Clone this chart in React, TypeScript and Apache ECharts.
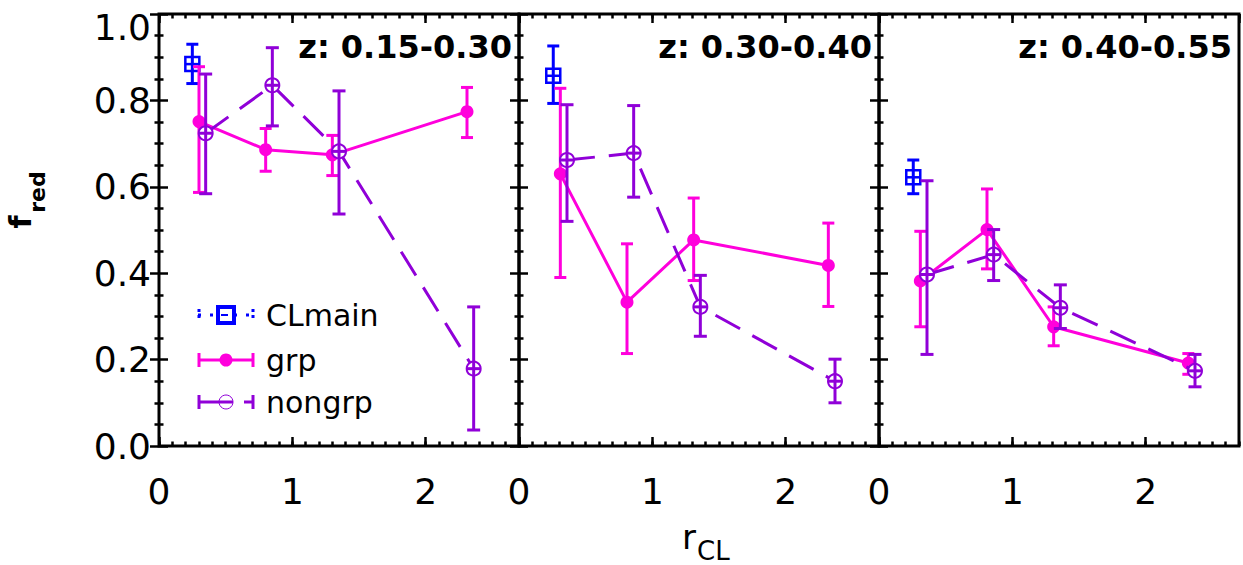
import React, { useEffect, useRef } from "react";
import * as echarts from "echarts";

// Redshift bins, one panel each
const panelTitles = ["z: 0.15-0.30", "z: 0.30-0.40", "z: 0.40-0.55"];

// CLmain: one point per panel (r, f, lower, upper)
const clmainR = [0.25, 0.257, 0.257];
const clmainF = [0.884, 0.857, 0.622];
const clmainLo = [0.839, 0.793, 0.584];
const clmainHi = [0.93, 0.926, 0.662];

// grp
const grpR = [
  [0.3, 0.8, 1.3, 2.31],
  [0.31, 0.81, 1.31, 2.32],
  [0.31, 0.81, 1.31, 2.32],
];
const grpF = [
  [0.751, 0.686, 0.674, 0.774],
  [0.63, 0.333, 0.477, 0.418],
  [0.382, 0.501, 0.276, 0.192],
];
const grpLo = [
  [0.587, 0.636, 0.626, 0.714],
  [0.39, 0.214, 0.383, 0.323],
  [0.276, 0.41, 0.232, 0.166],
];
const grpHi = [
  [0.878, 0.735, 0.719, 0.83],
  [0.828, 0.468, 0.574, 0.516],
  [0.497, 0.595, 0.322, 0.214],
];

// nongrp
const nongrpR = [
  [0.35, 0.85, 1.35, 2.36],
  [0.36, 0.86, 1.36, 2.37],
  [0.36, 0.86, 1.36, 2.37],
];
const nongrpF = [
  [0.724, 0.835, 0.682, 0.179],
  [0.662, 0.678, 0.322, 0.15],
  [0.397, 0.443, 0.32, 0.174],
];
const nongrpLo = [
  [0.584, 0.741, 0.537, 0.037],
  [0.52, 0.576, 0.254, 0.1],
  [0.212, 0.383, 0.272, 0.137],
];
const nongrpHi = [
  [0.861, 0.922, 0.822, 0.322],
  [0.79, 0.788, 0.395, 0.201],
  [0.614, 0.501, 0.373, 0.212],
];

const X_MAX = 2.7;
const BLUE = "#0000ff";
const MAGENTA = "#ff00dc";
const PURPLE = "#9000d8";
const FONT = "DejaVu Sans";

const PANEL_LEFT = [159, 519, 879];
const PANEL_TOP = 14;
const PANEL_W = 360;
const PANEL_H = 432;

type Deco = "none" | "bar" | "box";

function errorBarRenderer(color: string, capHalf: number, deco: Deco) {
  return (_params: any, api: any) => {
    const x = api.value(0);
    const lo = api.coord([x, api.value(1)]);
    const hi = api.coord([x, api.value(2)]);
    const c = api.coord([x, api.value(3)]);
    const st = { stroke: color, lineWidth: 3, fill: "none" };
    const kids: any[] = [
      { type: "line", shape: { x1: lo[0], y1: lo[1], x2: hi[0], y2: hi[1] }, style: st },
      { type: "line", shape: { x1: hi[0] - capHalf, y1: hi[1], x2: hi[0] + capHalf, y2: hi[1] }, style: st },
      { type: "line", shape: { x1: lo[0] - capHalf, y1: lo[1], x2: lo[0] + capHalf, y2: lo[1] }, style: st },
    ];
    if (deco === "bar") {
      kids.push({ type: "line", shape: { x1: c[0] - 7, y1: c[1], x2: c[0] + 7, y2: c[1] }, style: st });
    }
    if (deco === "box") {
      kids.push({
        type: "rect",
        shape: { x: c[0] - 7, y: c[1] - 7, width: 14, height: 14 },
        style: { stroke: color, lineWidth: 2.5, fill: "none" },
      });
      kids.push({
        type: "line",
        shape: { x1: c[0] - 7, y1: c[1], x2: c[0] + 7, y2: c[1] },
        style: { stroke: color, lineWidth: 2.5 },
      });
    }
    return { type: "group", children: kids };
  };
}

function buildOption() {
  const grid: any[] = [];
  const xAxis: any[] = [];
  const yAxis: any[] = [];
  const series: any[] = [];
  const graphic: any[] = [];

  const tickStyle = { color: "#000", width: 2.5 };
  const labelFont = { fontSize: 36, fontFamily: FONT, color: "#000" };

  for (let i = 0; i < 3; i++) {
    grid.push({
      left: PANEL_LEFT[i],
      top: PANEL_TOP,
      width: PANEL_W,
      height: PANEL_H,
      show: true,
      borderColor: "#000",
      borderWidth: 3,
      backgroundColor: "transparent",
    });

    // bottom/top major + minor x axes
    for (const pos of ["bottom", "top"]) {
      xAxis.push({
        type: "value",
        gridIndex: i,
        position: pos,
        min: 0,
        max: X_MAX,
        interval: 1,
        axisLine: { show: false },
        splitLine: { show: false },
        axisTick: { show: true, inside: true, length: 9, lineStyle: tickStyle },
        axisLabel: {
          show: pos === "bottom",
          showMaxLabel: false,
          margin: 27,
          ...labelFont,
          formatter: (v: number) =>
            Math.abs(v - Math.round(v)) < 1e-6 ? String(Math.round(v)) : "",
        },
      });
      xAxis.push({
        type: "value",
        gridIndex: i,
        position: pos,
        min: 0,
        max: X_MAX,
        interval: 0.1,
        axisLine: { show: false },
        splitLine: { show: false },
        axisTick: { show: true, inside: true, length: 4.5, lineStyle: tickStyle },
        axisLabel: { show: false },
      });
    }

    for (const pos of ["left", "right"]) {
      yAxis.push({
        type: "value",
        gridIndex: i,
        position: pos,
        min: 0,
        max: 1,
        interval: 0.2,
        axisLine: { show: false },
        splitLine: { show: false },
        axisTick: { show: true, inside: true, length: 9, lineStyle: tickStyle },
        minorTick: { show: true, splitNumber: 4, length: 4.5, lineStyle: tickStyle },
        axisLabel: {
          show: i === 0 && pos === "left",
          margin: 8,
          ...labelFont,
          // the top label sits a little lower so it stays inside the page
          formatter: (v: number) => (v >= 0.999 ? `{top|${v.toFixed(1)}}` : v.toFixed(1)),
          rich: { top: { ...labelFont, padding: [26, 0, 0, 0] } },
        },
      });
    }

    const xi = i * 4;
    const yi = i * 2;

    series.push({
      type: "custom",
      name: "CLmain",
      xAxisIndex: xi,
      yAxisIndex: yi,
      z: 2,
      silent: true,
      encode: { x: 0, y: 3 },
      data: [[clmainR[i], clmainLo[i], clmainHi[i], clmainF[i]]],
      renderItem: errorBarRenderer(BLUE, 6, "box"),
    });

    series.push({
      type: "line",
      name: "grp",
      xAxisIndex: xi,
      yAxisIndex: yi,
      z: 3,
      silent: true,
      data: grpR[i].map((r, j) => [r, grpF[i][j]]),
      lineStyle: { color: MAGENTA, width: 3 },
      symbol: "circle",
      symbolSize: 13,
      itemStyle: { color: MAGENTA },
    });
    series.push({
      type: "custom",
      name: "grp-err",
      xAxisIndex: xi,
      yAxisIndex: yi,
      z: 4,
      silent: true,
      encode: { x: 0, y: 3 },
      data: grpR[i].map((r, j) => [r, grpLo[i][j], grpHi[i][j], grpF[i][j]]),
      renderItem: errorBarRenderer(MAGENTA, 6, "none"),
    });

    series.push({
      type: "line",
      name: "nongrp",
      xAxisIndex: xi,
      yAxisIndex: yi,
      z: 5,
      silent: true,
      data: nongrpR[i].map((r, j) => [r, nongrpF[i][j]]),
      lineStyle: { color: PURPLE, width: 3, type: [28, 14] },
      symbol: "emptyCircle",
      symbolSize: 14,
      itemStyle: { color: PURPLE, borderColor: PURPLE, borderWidth: 1 },
    });
    series.push({
      type: "custom",
      name: "nongrp-err",
      xAxisIndex: xi,
      yAxisIndex: yi,
      z: 6,
      silent: true,
      encode: { x: 0, y: 3 },
      data: nongrpR[i].map((r, j) => [r, nongrpLo[i][j], nongrpHi[i][j], nongrpF[i][j]]),
      renderItem: errorBarRenderer(PURPLE, 6.5, "bar"),
    });

    graphic.push({
      type: "text",
      x: PANEL_LEFT[i] + PANEL_W - 7,
      y: 47,
      z: 10,
      style: {
        text: panelTitles[i],
        fill: "#000",
        fontSize: 32,
        fontWeight: "bold",
        fontFamily: FONT,
        align: "right",
        verticalAlign: "middle",
      },
    });
  }

  // legend inside the first panel
  const lx0 = 198;
  const lx1 = 254;
  const lxc = 226;
  const rows = [315, 360, 402];
  const legendKids: any[] = [
    // CLmain: dotted line with caps and a box
    { type: "line", shape: { x1: lx0, y1: rows[0], x2: lx1, y2: rows[0] }, style: { stroke: BLUE, lineWidth: 3, lineDash: [3, 9] } },
    { type: "line", shape: { x1: lx0 + 1, y1: rows[0] - 6, x2: lx0 + 1, y2: rows[0] + 6 }, style: { stroke: BLUE, lineWidth: 3, lineDash: [3, 3] } },
    { type: "line", shape: { x1: lx1 - 1, y1: rows[0] - 6, x2: lx1 - 1, y2: rows[0] + 6 }, style: { stroke: BLUE, lineWidth: 3, lineDash: [3, 3] } },
    { type: "rect", shape: { x: lxc - 8, y: rows[0] - 8, width: 16, height: 16 }, style: { stroke: BLUE, lineWidth: 4, fill: "#fff" } },
    { type: "line", shape: { x1: lxc - 5, y1: rows[0], x2: lxc + 2, y2: rows[0] }, style: { stroke: BLUE, lineWidth: 2 } },
    // grp: solid line with caps and a filled dot
    { type: "line", shape: { x1: lx0, y1: rows[1], x2: lx1, y2: rows[1] }, style: { stroke: MAGENTA, lineWidth: 3 } },
    { type: "line", shape: { x1: lx0 + 1, y1: rows[1] - 7, x2: lx0 + 1, y2: rows[1] + 7 }, style: { stroke: MAGENTA, lineWidth: 3 } },
    { type: "line", shape: { x1: lx1 - 1, y1: rows[1] - 7, x2: lx1 - 1, y2: rows[1] + 7 }, style: { stroke: MAGENTA, lineWidth: 3 } },
    { type: "circle", shape: { cx: lxc, cy: rows[1], r: 6.5 }, style: { fill: MAGENTA } },
    // nongrp: dashed line with caps and an open circle
    { type: "line", shape: { x1: lx0, y1: rows[2], x2: lxc + 7, y2: rows[2] }, style: { stroke: PURPLE, lineWidth: 3 } },
    { type: "line", shape: { x1: lx1 - 10, y1: rows[2], x2: lx1, y2: rows[2] }, style: { stroke: PURPLE, lineWidth: 3 } },
    { type: "line", shape: { x1: lx0 + 1, y1: rows[2] - 7, x2: lx0 + 1, y2: rows[2] + 7 }, style: { stroke: PURPLE, lineWidth: 3 } },
    { type: "line", shape: { x1: lx1 - 1, y1: rows[2] - 7, x2: lx1 - 1, y2: rows[2] + 7 }, style: { stroke: PURPLE, lineWidth: 3 } },
    { type: "circle", shape: { cx: lxc, cy: rows[2], r: 7 }, style: { fill: "none", stroke: PURPLE, lineWidth: 1 } },
  ];
  const legendNames = ["CLmain", "grp", "nongrp"];
  legendNames.forEach((name, k) => {
    legendKids.push({
      type: "text",
      x: 266,
      y: rows[k],
      style: { text: name, fill: "#000", fontSize: 30, fontFamily: FONT, align: "left", verticalAlign: "middle" },
    });
  });
  graphic.push({ type: "group", z: 10, children: legendKids });

  // axis titles: f_red (rotated) and r_CL
  graphic.push({
    type: "text",
    x: 20,
    y: 222,
    rotation: Math.PI / 2,
    style: { text: "f", fill: "#000", fontSize: 30, fontWeight: "bold", fontFamily: FONT, align: "center", verticalAlign: "middle" },
  });
  graphic.push({
    type: "text",
    x: 37,
    y: 192,
    rotation: Math.PI / 2,
    style: { text: "red", fill: "#000", fontSize: 22, fontWeight: "bold", fontFamily: FONT, align: "center", verticalAlign: "middle" },
  });
  graphic.push({
    type: "text",
    x: 696,
    y: 537,
    style: { text: "r", fill: "#000", fontSize: 34, fontFamily: FONT, align: "right", verticalAlign: "middle" },
  });
  graphic.push({
    type: "text",
    x: 697,
    y: 551,
    style: { text: "CL", fill: "#000", fontSize: 26, fontFamily: FONT, align: "left", verticalAlign: "middle" },
  });

  return {
    animation: false,
    backgroundColor: "#fff",
    grid,
    xAxis,
    yAxis,
    series,
    graphic,
  };
}

export default function App() {
  const ref = useRef<HTMLDivElement>(null);

  useEffect(() => {
    document.body.style.margin = "0";
    if (!ref.current) return;
    const chart = echarts.init(ref.current, undefined, { renderer: "svg" });
    chart.setOption(buildOption() as any);
    return () => chart.dispose();
  }, []);

  return <div ref={ref} style={{ width: 1243, height: 565 }} />;
}
